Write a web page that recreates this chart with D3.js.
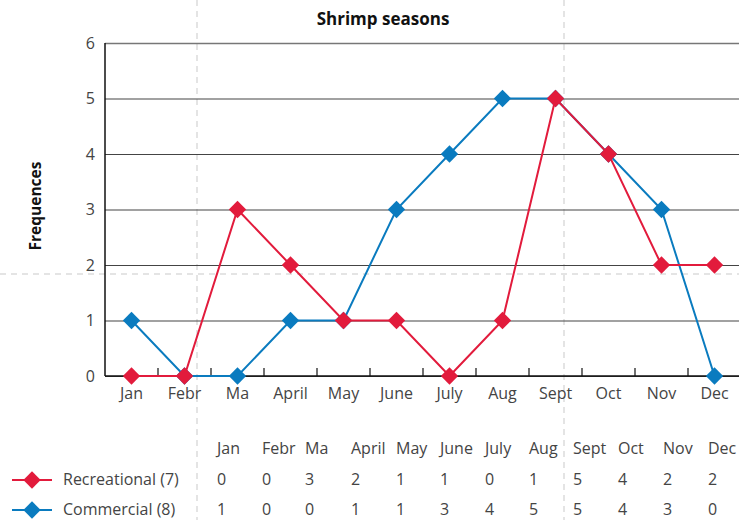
<!DOCTYPE html>
<html>
<head>
<meta charset="utf-8">
<script src="https://cdn.jsdelivr.net/npm/d3@7"></script>
<style>
  body { margin: 0; background: #fff; }
  svg { display: block; font-family: "Open Sans", Lato, sans-serif; }
</style>
</head>
<body>
<svg width="739" height="520"></svg>
<script>
var months = ["Jan", "Febr", "Ma", "April", "May", "June", "July", "Aug", "Sept", "Oct", "Nov", "Dec"];
var recreational = [0, 0, 3, 2, 1, 1, 0, 1, 5, 4, 2, 2];
var commercial = [1, 0, 0, 1, 1, 3, 4, 5, 5, 4, 3, 0];
var seriesNames = ["Recreational (7)", "Commercial (8)"];
var seriesColors = ["#e21b3c", "#0a7bbf"];
var yTicks = [0, 1, 2, 3, 4, 5, 6];
// left edge of each column in the little table under the chart
var tableX = [217, 262, 305, 351, 396, 440, 485, 529, 573, 618, 663, 708];

var svg = d3.select("svg");
var W = +svg.attr("width");
var fs = 16;

var x = d3.scaleBand().domain(months).range([105, 741]).padding(0);
var y = d3.scaleLinear().domain([0, 6]).range([376, 43]);

// light dashed guides behind everything
var guides = svg.append("g")
    .attr("stroke", "#dcdcdc")
    .attr("stroke-width", 1.5)
    .attr("stroke-dasharray", "6,5");
guides.append("line").attr("x1", 197).attr("x2", 197).attr("y1", 0).attr("y2", 520);
guides.append("line").attr("x1", 564).attr("x2", 564).attr("y1", 0).attr("y2", 520);
guides.append("line").attr("x1", 0).attr("x2", W).attr("y1", 274).attr("y2", 274);

// title
svg.append("text")
    .attr("x", 383).attr("y", 25)
    .attr("text-anchor", "middle")
    .attr("font-weight", "bold")
    .attr("font-size", 17)
    .attr("fill", "#111")
    .text("Shrimp seasons");

svg.append("text")
    .attr("transform", "translate(41,206) rotate(-90)")
    .attr("text-anchor", "middle")
    .attr("font-weight", "bold")
    .attr("font-size", 15.5)
    .attr("fill", "#111")
    .text("Frequences");

// y axis + grid
var yAxis = svg.append("g")
    .attr("transform", "translate(105,0)")
    .call(d3.axisLeft(y).tickValues(yTicks).tickSize(-(W - 105)).tickPadding(10).tickFormat(d3.format("d")));
yAxis.select(".domain").remove();
yAxis.selectAll(".tick line")
    .attr("stroke", function (d) { return d == 6 ? "#777" : "#444"; })
    .attr("stroke-width", function (d) { return d == 6 ? 1.5 : 1.2; });
yAxis.selectAll(".tick text")
    .attr("font-size", fs)
    .attr("fill", "#444")
    .attr("font-family", "'Open Sans', sans-serif");

svg.append("line")
    .attr("x1", 105).attr("x2", 105)
    .attr("y1", y(6)).attr("y2", y(0))
    .attr("stroke", "#111").attr("stroke-width", 1.5);
svg.append("line")
    .attr("x1", 105).attr("x2", W)
    .attr("y1", y(0)).attr("y2", y(0))
    .attr("stroke", "#111").attr("stroke-width", 1.5);

// small upward ticks between the months
svg.append("g").selectAll("line")
    .data(months.slice(1))
    .enter()
    .append("line")
    .attr("x1", function (d) { return x(d); })
    .attr("x2", function (d) { return x(d); })
    .attr("y1", y(0))
    .attr("y2", y(0) - 8)
    .attr("stroke", "#111")
    .attr("stroke-width", 1.2);

// month labels
var xAxis = svg.append("g")
    .attr("transform", "translate(0," + y(0) + ")")
    .call(d3.axisBottom(x).tickSize(0).tickPadding(12));
xAxis.select(".domain").remove();
xAxis.selectAll(".tick text")
    .attr("font-size", fs)
    .attr("fill", "#444")
    .attr("font-family", "'Open Sans', sans-serif");

var diamond = d3.symbol().type(d3.symbolSquare).size(150);

var line = d3.line()
    .x(function (d, i) { return x(months[i]) + x.bandwidth() / 2; })
    .y(function (d) { return y(d); });

// commercial first so the red one sits on top
var series = [commercial, recreational];
var colors = [seriesColors[1], seriesColors[0]];

series.forEach(function (vals, k) {
    var g = svg.append("g");
    g.append("path")
        .datum(vals)
        .attr("d", line)
        .attr("fill", "none")
        .attr("stroke", colors[k])
        .attr("stroke-width", 2);
    g.selectAll("path.pt")
        .data(vals)
        .enter()
        .append("path")
        .attr("class", "pt")
        .attr("d", diamond)
        .attr("fill", colors[k])
        .attr("transform", function (d, i) {
            return "translate(" + (x(months[i]) + x.bandwidth() / 2) + "," + y(d) + ") rotate(45)";
        });
});

// table under the chart
var table = svg.append("g")
    .attr("font-size", fs)
    .attr("fill", "#444");

table.selectAll("text.hd")
    .data(months)
    .enter()
    .append("text")
    .attr("class", "hd")
    .attr("x", function (d, i) { return tableX[i]; })
    .attr("y", 454)
    .text(function (d) { return d; });

var rows = [recreational, commercial];
var rowY = [485, 515];

rows.forEach(function (vals, r) {
    table.selectAll("text.r" + r)
        .data(vals)
        .enter()
        .append("text")
        .attr("class", "r" + r)
        .attr("x", function (d, i) { return tableX[i]; })
        .attr("y", rowY[r])
        .text(function (d) { return d; });

    var lg = svg.append("g").attr("transform", "translate(0," + (rowY[r] - 5) + ")");
    lg.append("line")
        .attr("x1", 12).attr("x2", 52)
        .attr("stroke", seriesColors[r])
        .attr("stroke-width", 2);
    lg.append("path")
        .attr("d", diamond)
        .attr("fill", seriesColors[r])
        .attr("transform", "translate(32,0) rotate(45)");
    lg.append("text")
        .attr("x", 63).attr("y", 5)
        .attr("font-size", fs)
        .attr("fill", "#444")
        .text(seriesNames[r]);
});
</script>
</body>
</html>
